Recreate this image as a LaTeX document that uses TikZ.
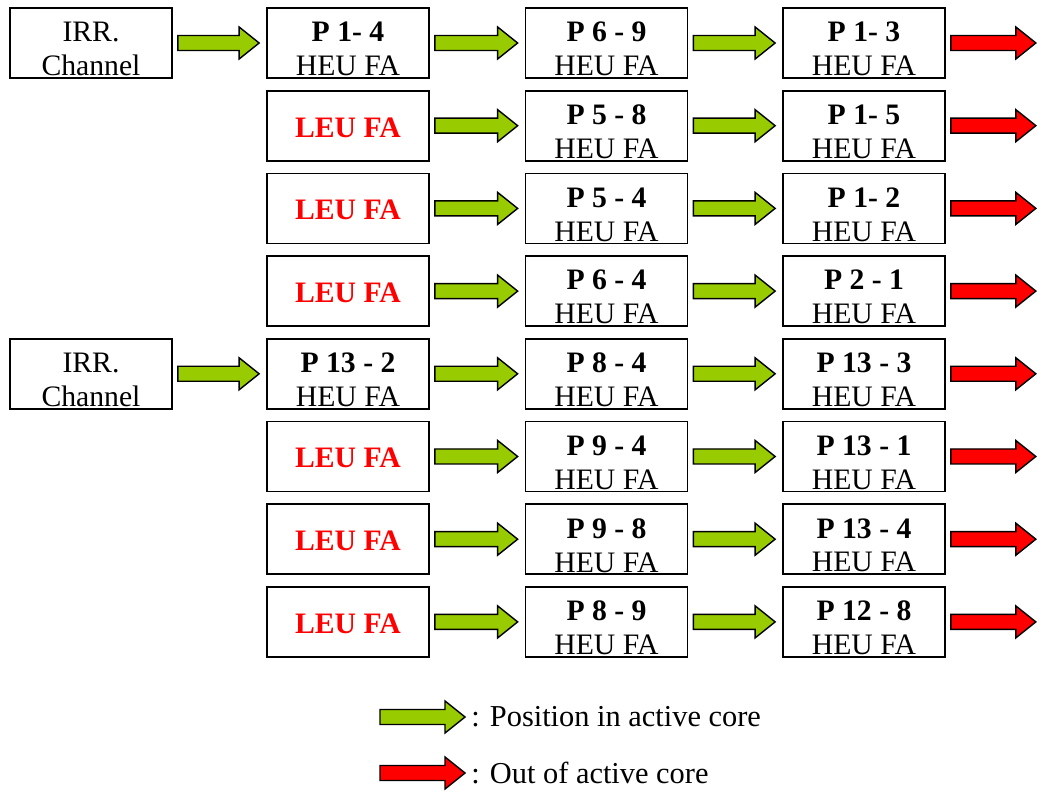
\documentclass[tikz,border=0pt]{standalone}
\usepackage{fontspec}
\setmainfont{Liberation Serif}
\usetikzlibrary{calc, positioning}
\definecolor{fagreen}{HTML}{99CC00}
\definecolor{fared}{HTML}{FF0000}
\tikzset{
    faBox/.style={rectangle, draw, line width=1pt, minimum width=3.24cm, minimum height=1.4cm, inner sep=0pt},
    faText/.style={align=center, inner sep=0pt, yshift=-3.5pt, font=\fontsize{16.9}{19.3}\selectfont},
    leuText/.style={inner sep=0pt, yshift=-1pt, text=fared, font=\fontsize{16.9}{19.3}\selectfont\bfseries},
    legText/.style={inner sep=0pt, anchor=west, font=\fontsize{17.3}{20}\selectfont},
    blockArrow/.style={draw=black, line width=0.8pt, line join=miter},
}
\newcommand{\drawFA}[4][faText]{
    \node[faBox] (#2) at (#3) {};
    \node[#1] (#2t) at (#2) {#4};
}
\newcommand{\drawBlock}[3][fagreen]{
    \draw[blockArrow, fill=#1] ($(#2)+(5,-7.5)$) -- ($(#3)+(-27,-7.5)$) -- ($(#3)+(-27,-16)$) -- ($(#3)+(-7,0)$)
        -- ($(#3)+(-27,16)$) -- ($(#3)+(-27,7.5)$) -- ($(#2)+(5,7.5)$) -- cycle;
}
\newcommand{\leu}{LEU FA}

\begin{document}
\begin{tikzpicture}[x=0.02cm, y=-0.02cm]
    \useasboundingbox (0,0) rectangle (1039,793);

    % irradiation channels
    \drawFA{I1}{91,43}{IRR.\\Channel}
    \drawFA{I5}{91,373.8}{IRR.\\Channel}

    % first column
    \drawFA{A1}{348,43}{\textbf{P 1- 4}\\HEU FA}
    \drawFA[leuText]{A2}{348,125.7}{\leu}
    \drawFA[leuText]{A3}{348,208.4}{\leu}
    \drawFA[leuText]{A4}{348,291.1}{\leu}
    \drawFA{A5}{348,373.8}{\textbf{P 13 - 2}\\HEU FA}
    \drawFA[leuText]{A6}{348,456.5}{\leu}
    \drawFA[leuText]{A7}{348,539.2}{\leu}
    \drawFA[leuText]{A8}{348,621.9}{\leu}

    % second column
    \drawFA{B1}{606.5,43}{\textbf{P 6 - 9}\\HEU FA}
    \drawFA{B2}{606.5,125.7}{\textbf{P 5 - 8}\\HEU FA}
    \drawFA{B3}{606.5,208.4}{\textbf{P 5 - 4}\\HEU FA}
    \drawFA{B4}{606.5,291.1}{\textbf{P 6 - 4}\\HEU FA}
    \drawFA{B5}{606.5,373.8}{\textbf{P 8 - 4}\\HEU FA}
    \drawFA{B6}{606.5,456.5}{\textbf{P 9 - 4}\\HEU FA}
    \drawFA{B7}{606.5,539.2}{\textbf{P 9 - 8}\\HEU FA}
    \drawFA{B8}{606.5,621.9}{\textbf{P 8 - 9}\\HEU FA}

    % third column
    \drawFA{C1}{864,43}{\textbf{P 1- 3}\\HEU FA}
    \drawFA{C2}{864,125.7}{\textbf{P 1- 5}\\HEU FA}
    \drawFA{C3}{864,208.4}{\textbf{P 1- 2}\\HEU FA}
    \drawFA{C4}{864,291.1}{\textbf{P 2 - 1}\\HEU FA}
    \drawFA{C5}{864,373.8}{\textbf{P 13 - 3}\\HEU FA}
    \drawFA{C6}{864,456.5}{\textbf{P 13 - 1}\\HEU FA}
    \drawFA{C7}{864,539.2}{\textbf{P 13 - 4}\\HEU FA}
    \drawFA{C8}{864,621.9}{\textbf{P 12 - 8}\\HEU FA}

    \drawBlock{I1.east}{A1.west}
    \drawBlock{I5.east}{A5.west}
    \foreach \r in {1,...,8} {
        \coordinate (O\r) at ($(C\r.east)+(97,0)$);
        \drawBlock{A\r.east}{B\r.west}
        \drawBlock{B\r.east}{C\r.west}
        \drawBlock[fared]{C\r.east}{O\r}
    }

    % legend
    \coordinate (gS) at (375,717);
    \coordinate (gE) at (472,717);
    \coordinate (rS) at (375,773);
    \coordinate (rE) at (472,773);
    \drawBlock{gS}{gE}
    \drawBlock[fared]{rS}{rE}
    \node[legText] (gL) at (471,717) {: Position in active core};
    \node[legText] (rL) at (471,773) {: Out of active core};

\end{tikzpicture}
\end{document}
